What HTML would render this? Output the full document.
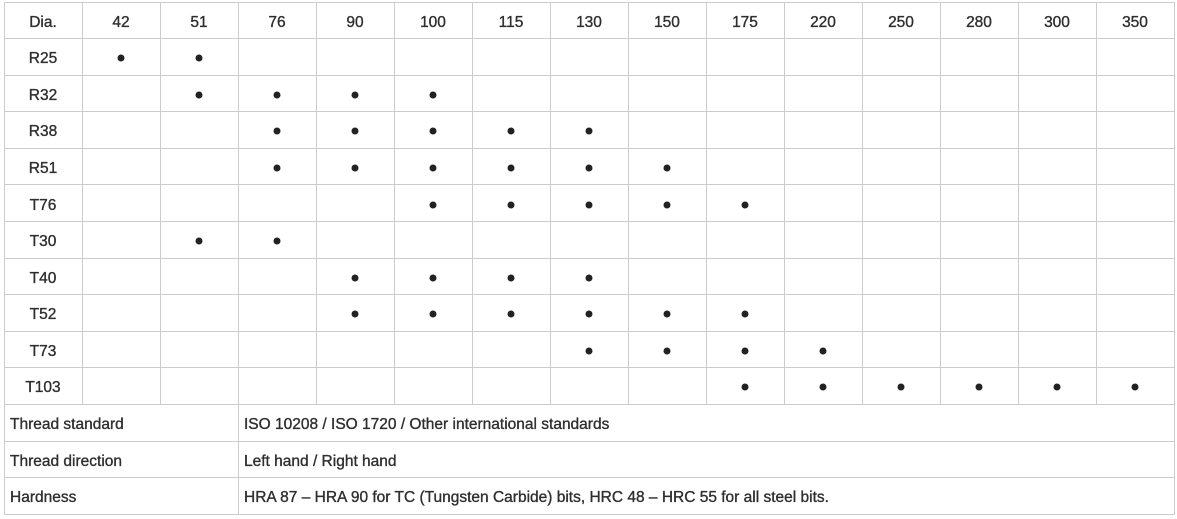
<!DOCTYPE html>
<html><head><meta charset="utf-8"><style>
html,body{margin:0;padding:0;background:#fff;}
svg{display:block;}
text{font-family:"Liberation Sans",sans-serif;font-size:15.5px;fill:#2e2e2e;stroke:#2e2e2e;stroke-width:0.35px;}
</style></head><body>
<svg width="1177" height="519" viewBox="0 0 1177 519">
<g stroke="#ccc" stroke-width="1" fill="none" shape-rendering="crispEdges">
<rect x="4.5" y="2.5" width="1170" height="512"/>
<line x1="4" x2="1174" y1="38.5" y2="38.5"/>
<line x1="4" x2="1174" y1="75.5" y2="75.5"/>
<line x1="4" x2="1174" y1="111.5" y2="111.5"/>
<line x1="4" x2="1174" y1="148.5" y2="148.5"/>
<line x1="4" x2="1174" y1="184.5" y2="184.5"/>
<line x1="4" x2="1174" y1="221.5" y2="221.5"/>
<line x1="4" x2="1174" y1="258.5" y2="258.5"/>
<line x1="4" x2="1174" y1="294.5" y2="294.5"/>
<line x1="4" x2="1174" y1="331.5" y2="331.5"/>
<line x1="4" x2="1174" y1="367.5" y2="367.5"/>
<line x1="4" x2="1174" y1="404.5" y2="404.5"/>
<line x1="4" x2="1174" y1="441.5" y2="441.5"/>
<line x1="4" x2="1174" y1="477.5" y2="477.5"/>
<line x1="82.5" x2="82.5" y1="2" y2="404"/>
<line x1="160.5" x2="160.5" y1="2" y2="404"/>
<line x1="238.5" x2="238.5" y1="2" y2="514"/>
<line x1="316.5" x2="316.5" y1="2" y2="404"/>
<line x1="394.5" x2="394.5" y1="2" y2="404"/>
<line x1="472.5" x2="472.5" y1="2" y2="404"/>
<line x1="550.5" x2="550.5" y1="2" y2="404"/>
<line x1="628.5" x2="628.5" y1="2" y2="404"/>
<line x1="706.5" x2="706.5" y1="2" y2="404"/>
<line x1="784.5" x2="784.5" y1="2" y2="404"/>
<line x1="862.5" x2="862.5" y1="2" y2="404"/>
<line x1="940.5" x2="940.5" y1="2" y2="404"/>
<line x1="1018.5" x2="1018.5" y1="2" y2="404"/>
<line x1="1096.5" x2="1096.5" y1="2" y2="404"/>
</g>
<g text-anchor="middle">
<text x="43" y="27">Dia.</text>
<text x="121" y="27">42</text><text x="199" y="27">51</text><text x="277" y="27">76</text><text x="355" y="27">90</text><text x="433" y="27">100</text><text x="511" y="27">115</text><text x="589" y="27">130</text><text x="667" y="27">150</text><text x="745" y="27">175</text><text x="823" y="27">220</text><text x="901" y="27">250</text><text x="979" y="27">280</text><text x="1057" y="27">300</text><text x="1135" y="27">350</text>
<text x="43" y="63">R25</text>
<text x="43" y="100">R32</text>
<text x="43" y="136">R38</text>
<text x="43" y="173">R51</text>
<text x="43" y="210">T76</text>
<text x="43" y="246">T30</text>
<text x="43" y="283">T40</text>
<text x="43" y="319">T52</text>
<text x="43" y="356">T73</text>
<text x="43" y="392">T103</text>
</g>
<text x="10" y="429">Thread standard</text>
<text x="10" y="466">Thread direction</text>
<text x="10" y="502">Hardness</text>
<text x="244" y="429">ISO 10208 / ISO 1720 / Other international standards</text>
<text x="244" y="466">Left hand / Right hand</text>
<text x="244" y="502">HRA 87 – HRA 90 for TC (Tungsten Carbide) bits, HRC 48 – HRC 55 for all steel bits.</text>
<g fill="#222">
<circle cx="121" cy="58" r="3.5"/><circle cx="199" cy="58" r="3.5"/>
<circle cx="199" cy="95" r="3.5"/><circle cx="277" cy="95" r="3.5"/><circle cx="355" cy="95" r="3.5"/><circle cx="433" cy="95" r="3.5"/>
<circle cx="277" cy="131" r="3.5"/><circle cx="355" cy="131" r="3.5"/><circle cx="433" cy="131" r="3.5"/><circle cx="511" cy="131" r="3.5"/><circle cx="589" cy="131" r="3.5"/>
<circle cx="277" cy="168" r="3.5"/><circle cx="355" cy="168" r="3.5"/><circle cx="433" cy="168" r="3.5"/><circle cx="511" cy="168" r="3.5"/><circle cx="589" cy="168" r="3.5"/><circle cx="667" cy="168" r="3.5"/>
<circle cx="433" cy="205" r="3.5"/><circle cx="511" cy="205" r="3.5"/><circle cx="589" cy="205" r="3.5"/><circle cx="667" cy="205" r="3.5"/><circle cx="745" cy="205" r="3.5"/>
<circle cx="199" cy="241" r="3.5"/><circle cx="277" cy="241" r="3.5"/>
<circle cx="355" cy="278" r="3.5"/><circle cx="433" cy="278" r="3.5"/><circle cx="511" cy="278" r="3.5"/><circle cx="589" cy="278" r="3.5"/>
<circle cx="355" cy="314" r="3.5"/><circle cx="433" cy="314" r="3.5"/><circle cx="511" cy="314" r="3.5"/><circle cx="589" cy="314" r="3.5"/><circle cx="667" cy="314" r="3.5"/><circle cx="745" cy="314" r="3.5"/>
<circle cx="589" cy="351" r="3.5"/><circle cx="667" cy="351" r="3.5"/><circle cx="745" cy="351" r="3.5"/><circle cx="823" cy="351" r="3.5"/>
<circle cx="745" cy="387" r="3.5"/><circle cx="823" cy="387" r="3.5"/><circle cx="901" cy="387" r="3.5"/><circle cx="979" cy="387" r="3.5"/><circle cx="1057" cy="387" r="3.5"/><circle cx="1135" cy="387" r="3.5"/>
</g>
</svg>
</body></html>
